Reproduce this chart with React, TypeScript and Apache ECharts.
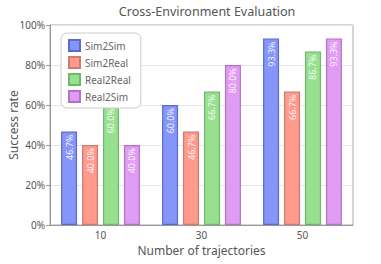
import React, { useEffect, useRef } from "react";
import * as echarts from "echarts";

const categories = ["10", "30", "50"];
const seriesNames = ["Sim2Sim", "Sim2Real", "Real2Real", "Real2Sim"];
const sim2sim = [46.7, 60.0, 93.3];
const sim2real = [40.0, 46.7, 66.7];
const real2real = [60.0, 66.7, 86.7];
const real2sim = [40.0, 80.0, 93.3];
const yTicks = [0, 20, 40, 60, 80, 100];

const fills = ["#8595f9", "#ff9a8c", "#98e090", "#e09cf2"];
const borders = ["#5a6bcf", "#cf7a6e", "#6db86a", "#b173c6"];

export default function App() {
  const ref = useRef<HTMLDivElement>(null);
  useEffect(() => {
    const chart = echarts.init(ref.current!, null, { renderer: "svg" });
    const font = "Noto Sans";
    const data = [sim2sim, sim2real, real2real, real2sim];
    chart.setOption({
      animation: false,
      textStyle: { fontFamily: font },
      title: {
        text: "Cross-Environment Evaluation",
        left: 202,
        textAlign: "center",
        top: 0,
        textStyle: { fontFamily: font, fontSize: 12.5, fontWeight: "normal", color: "#555" },
      },
      grid: {
        left: 50, right: 28, top: 25, bottom: 39,
        show: true, borderColor: "#aaa", borderWidth: 1,
        containLabel: false, outerBoundsMode: "none",
      },
      legend: {
        orient: "vertical",
        left: 61,
        top: 33,
        padding: [6, 10, 5, 7],
        itemWidth: 11,
        itemHeight: 11,
        itemGap: 4,
        borderColor: "#ccc",
        borderWidth: 1,
        borderRadius: 6,
        backgroundColor: "#fff",
        textStyle: { fontFamily: font, fontSize: 10, color: "#666" },
        data: seriesNames.map((n) => ({ name: n, icon: "rect" })),
      },
      xAxis: {
        type: "category",
        data: categories,
        name: "Number of trajectories",
        nameLocation: "middle",
        nameGap: 19,
        nameMoveOverlap: false,
        nameTextStyle: { fontFamily: font, fontSize: 12, color: "#555" },
        axisLine: { lineStyle: { color: "#999" } },
        axisTick: { alignWithLabel: true, length: 4, lineStyle: { color: "#999" } },
        axisLabel: { fontFamily: font, fontSize: 10, color: "#555", margin: 5 },
      },
      yAxis: {
        type: "value",
        min: 0,
        max: 100,
        interval: 20,
        name: "Success rate",
        nameLocation: "middle",
        nameGap: 31,
        nameMoveOverlap: false,
        nameTextStyle: { fontFamily: font, fontSize: 12, color: "#555" },
        axisLine: { show: true, lineStyle: { color: "#999" } },
        axisTick: { show: true, length: 4, lineStyle: { color: "#999" } },
        axisLabel: {
          fontFamily: font,
          fontSize: 10,
          color: "#555",
          margin: 5,
          formatter: (v: number) => (yTicks.includes(v) ? v + "%" : ""),
        },
        splitLine: { lineStyle: { color: "#e6e6e6" } },
      },
      series: seriesNames.map((name, i) => ({
        name,
        type: "bar",
        data: data[i],
        barWidth: 16,
        barGap: "31%",
        itemStyle: { color: fills[i], borderColor: borders[i], borderWidth: 1.2 },
        label: {
          show: true,
          position: "insideTop",
          rotate: 90,
          align: "right",
          verticalAlign: "middle",
          distance: 3,
          color: "rgba(255,255,255,0.92)",
          fontFamily: font,
          fontSize: 9,
          formatter: (p: any) => p.value.toFixed(1) + "%",
        },
      })),
    });
    return () => chart.dispose();
  }, []);
  return <div ref={ref} style={{ width: 381, height: 264, position: "absolute", left: 0, top: 0 }} />;
}
